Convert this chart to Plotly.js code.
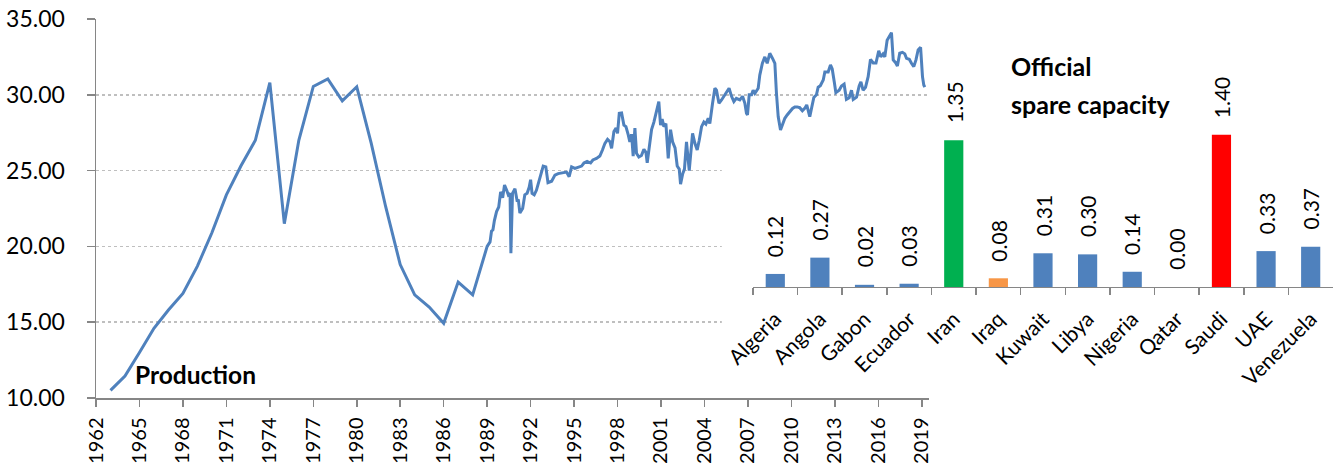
<!DOCTYPE html>
<html>
<head>
<meta charset="utf-8">
<script src="https://cdn.plot.ly/plotly-3.0.1.min.js"></script>
<style>html,body{margin:0;padding:0;background:#fff;}#chart{width:1341px;height:465px;}</style>
</head>
<body>
<div id="chart"></div>
<script>
// ---- Production series (years, mb/d) ----
const years = [
1963,1964,1965,1966,1967,1968,1969,1970,1971,1972,1973,1974,1975,1976,1977,1978,1979,1980,
1981,1982,1983,1984,1985,1986,1987,1988,1989.0,
1989.2,1989.3,1989.4,1989.5,1989.65,1989.8,1989.93,1990.07,1990.2,1990.35,1990.46,1990.58,1990.64,1990.75,1990.92,
1991.08,1991.15,1991.26,1991.45,1991.6,1991.76,1991.9,1992.0,1992.1,1992.25,1992.4,1992.64,1992.87,
1993.05,1993.2,1993.45,1993.68,1993.9,1994.25,1994.48,1994.66,1994.83,1995.06,1995.3,1995.52,1995.68,1995.9,
1996.14,1996.3,1996.55,1996.78,1996.96,1997.13,1997.31,1997.48,1997.59,1997.75,1997.9,1998.0,1998.12,1998.28,
1998.44,1998.58,1998.74,1998.85,1998.97,1999.08,1999.2,1999.31,1999.47,1999.65,1999.82,1999.96,
2000.05,2000.19,2000.35,2000.51,2000.7,2000.85,2000.97,2001.08,2001.2,2001.34,2001.5,2001.66,2001.8,2001.97,
2002.12,2002.26,2002.35,2002.5,2002.62,2002.76,2002.95,2003.18,2003.34,2003.5,2003.64,2003.8,2003.96,
2004.1,2004.26,2004.37,2004.56,2004.72,2004.83,2005.0,2005.18,2005.4,2005.7,2005.87,2006.03,2006.2,2006.44,
2006.63,2006.79,2006.9,2006.97,2007.09,2007.25,2007.36,2007.48,2007.71,2007.82,2008.0,2008.17,2008.33,
2008.51,2008.7,2008.86,2008.97,2009.09,2009.25,2009.39,2009.55,2009.71,2009.9,2010.08,2010.24,2010.4,
2010.58,2010.76,2010.92,2011.06,2011.27,2011.39,2011.55,2011.73,2011.85,2012.0,2012.2,2012.31,2012.54,
2012.7,2012.82,2012.96,2013.07,2013.3,2013.46,2013.64,2013.8,2013.99,2014.15,2014.27,2014.5,2014.68,
2014.8,2014.95,2015.12,2015.3,2015.46,2015.65,2015.84,2016.03,2016.17,2016.33,2016.45,2016.61,2016.8,
2016.91,2017.03,2017.21,2017.32,2017.48,2017.67,2017.83,2017.95,2018.14,2018.29,2018.45,2018.6,2018.75,
2018.92,2019.05,2019.14,2019.21
];
const production = [
10.5,11.45,13.0,14.6,15.8,16.9,18.7,20.9,23.4,25.3,27.0,30.8,21.5,27.0,30.55,31.04,29.6,30.53,
26.8,22.6,18.8,16.8,16.0,14.93,17.65,16.8,20.0,
20.3,21.0,21.1,21.7,22.3,22.6,23.6,23.2,24.05,23.7,23.4,23.5,19.55,23.5,23.8,
22.95,23.1,22.2,22.5,23.4,23.5,23.9,24.4,23.5,23.4,23.7,24.5,25.3,
25.25,24.2,24.3,24.7,24.8,24.85,24.9,24.6,25.25,25.15,25.25,25.3,25.5,25.6,
25.5,25.7,25.8,25.96,26.36,26.8,27.06,26.9,26.47,27.57,27.8,27.46,28.78,28.8,
28.0,27.9,27.35,26.9,27.4,25.96,27.8,26.14,25.9,26.0,26.4,26.2,
25.52,26.7,27.7,28.2,29.0,29.55,28.0,28.4,27.9,28.1,25.8,27.7,26.9,26.5,
25.3,25.1,24.1,24.8,25.1,26.9,25.0,27.46,26.8,26.36,27.0,27.9,28.2,
28.07,28.45,28.1,29.44,30.43,30.3,29.44,29.66,30.0,30.43,29.9,29.55,29.77,29.66,
29.9,29.44,28.78,28.67,30.0,30.0,30.3,30.1,30.43,31.3,32.08,32.5,32.08,
32.74,32.4,32.08,30.1,28.56,27.68,28.1,28.45,28.67,28.9,29.1,29.2,29.2,
29.15,28.95,29.1,29.33,28.56,29.2,29.83,30.0,30.5,30.6,30.98,31.5,31.5,
31.97,31.7,30.86,30.14,30.3,30.58,30.7,29.7,29.8,30.3,29.7,29.85,30.58,
30.86,30.3,30.5,31.2,32.34,32.1,32.1,32.9,32.5,32.7,32.5,33.6,33.94,
34.1,32.3,32.1,31.9,32.74,32.8,32.7,32.4,32.34,32.08,31.86,32.3,32.96,
33.13,31.2,30.65,30.5
];
const yearTicks = [1962,1965,1968,1971,1974,1977,1980,1983,1986,1989,1992,1995,1998,2001,2004,2007,2010,2013,2016,2019];

// ---- Official spare capacity (mb/d) ----
const countries = ['Algeria','Angola','Gabon','Ecuador','Iran','Iraq','Kuwait','Libya','Nigeria','Qatar','Saudi','UAE','Venezuela'];
const spare = [0.12,0.27,0.02,0.03,1.35,0.08,0.31,0.30,0.14,0.00,1.40,0.33,0.37];
const barColors = ['#4F81BD','#4F81BD','#4F81BD','#4F81BD','#00B050','#F79646','#4F81BD','#4F81BD','#4F81BD','#4F81BD','#FF0000','#4F81BD','#4F81BD'];

const FONT = 'Lato, "Open Sans", sans-serif';
const GRAY = '#868686';

const traces = [
  {
    type: 'scatter', mode: 'lines', x: years, y: production,
    line: {color: '#4F81BD', width: 3}, xaxis: 'x', yaxis: 'y', hoverinfo: 'skip'
  },
  {
    type: 'bar', x: countries, y: spare, marker: {color: barColors},
    width: 0.43, xaxis: 'x2', yaxis: 'y2', hoverinfo: 'skip'
  }
];

const barLabels = countries.map((c, i) => ({
  x: c, y: spare[i], xref: 'x2', yref: 'y2', text: spare[i].toFixed(2),
  textangle: -90, showarrow: false, yanchor: 'bottom', xanchor: 'center', yshift: 15,
  font: {family: FONT, size: 21, color: '#000'}
}));

const layout = {
  width: 1341, height: 465,
  margin: {l: 96, r: 8, t: 19, b: 67, pad: 0},
  paper_bgcolor: '#fff', plot_bgcolor: 'rgba(0,0,0,0)',
  showlegend: false,
  font: {family: FONT, size: 22, color: '#000'},
  xaxis: {
    domain: [0, 0.6734], range: [1962, 2019.5], anchor: 'y',
    tickvals: yearTicks, ticktext: yearTicks.map(String), tickangle: -90,
    ticks: 'outside', ticklen: 7, tickwidth: 1.5, tickcolor: GRAY,
    showline: true, linecolor: GRAY, linewidth: 1.5, showgrid: false, zeroline: false,
    tickfont: {family: FONT, size: 20, color: '#000'}, ticklabelstandoff: 3
  },
  yaxis: {
    range: [10, 35], dtick: 5, tick0: 10, tickformat: '.2f', anchor: 'x',
    ticks: 'outside', ticklen: 8, tickwidth: 1.5, tickcolor: GRAY,
    showline: true, linecolor: GRAY, linewidth: 1.5,
    showgrid: true, gridcolor: '#BFBFBF', gridwidth: 1.5, griddash: 'dot', zeroline: false,
    tickfont: {family: FONT, size: 23, color: '#000'}, ticklabelstandoff: 17
  },
  xaxis2: {
    domain: [0.5311, 1.0], anchor: 'y2', type: 'category',
    tickangle: -45, ticks: 'outside', tickson: 'boundaries', ticklen: 7, tickwidth: 1.5, tickcolor: GRAY,
    showline: true, linecolor: GRAY, linewidth: 1.5, showgrid: false, zeroline: false,
    tickfont: {family: FONT, size: 21, color: '#000'}, ticklabelstandoff: 10
  },
  yaxis2: {
    domain: [0.2929, 0.752], anchor: 'x2', range: [0, 1.6], visible: false, showgrid: false
  },
  shapes: [
    {type: 'rect', xref: 'x', yref: 'y', x0: 2005.2, x1: 2030, y0: 10.5, y1: 26.4,
     fillcolor: '#fff', line: {width: 0}, layer: 'between'}
  ],
  annotations: [
    {xref: 'paper', yref: 'paper', x: 0.030, y: 0.0607, xanchor: 'left', yanchor: 'middle',
     text: '<b>Production</b>', showarrow: false, font: {family: FONT, size: 24.5, color: '#000'}},
    {xref: 'paper', yref: 'paper', x: 0.738, y: 0.876, xanchor: 'left', yanchor: 'middle',
     text: '<b>Official</b>', showarrow: false, font: {family: FONT, size: 25, color: '#000'}},
    {xref: 'paper', yref: 'paper', x: 0.738, y: 0.776, xanchor: 'left', yanchor: 'middle',
     text: '<b>spare capacity</b>', showarrow: false, font: {family: FONT, size: 25, color: '#000'}}
  ].concat(barLabels)
};

Plotly.newPlot('chart', traces, layout, {staticPlot: true, displayModeBar: false});
</script>
</body>
</html>
